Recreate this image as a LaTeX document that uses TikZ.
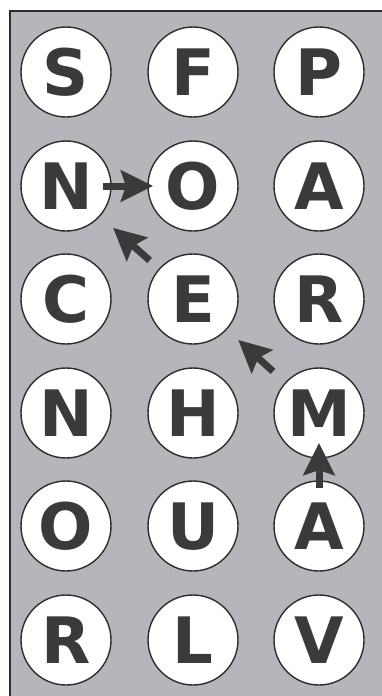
\documentclass[tikz,border=0pt]{standalone}
\usepackage{fontspec}
\setmainfont{DejaVu Sans}
\usetikzlibrary{arrows.meta}
\definecolor{bggrey}{RGB}{181,182,187}
\definecolor{ink}{RGB}{58,58,58}
\definecolor{rim}{RGB}{45,45,45}
\tikzset{
  letter/.style={circle, draw=rim, line width=1.4pt, fill=white, minimum size=90pt, inner sep=0pt,
    text=ink, font=\fontsize{64}{64}\selectfont\bfseries, text height=47pt, text depth=0pt},
  move/.style={draw=ink, line width=7pt, -{Stealth[length=32pt,width=31pt,inset=5pt]}}
}
\begin{document}
\begin{tikzpicture}[x=1pt,y=-1pt]
\useasboundingbox (0,0) rectangle (382,696);
\fill[white] (0,0) rectangle (382,696);
\fill[bggrey] (10,11) rectangle (390,705);
\draw[rim, line width=1.5pt] (10,705) -- (10,11) -- (390,11);
% grid
\node[letter] (s)  at (66,72) {S};
\node[letter] (f)  at (193,72) {F};
\node[letter] (p)  at (319,72) {P};
\node[letter] (n1) at (66,186) {N};
\node[letter] (o1) at (193,186) {O};
\node[letter] (a1) at (319,186) {A};
\node[letter] (c)  at (66,299) {C};
\node[letter] (e)  at (193,299) {E};
\node[letter] (r1) at (319,299) {R};
\node[letter] (n2) at (66,413) {N};
\node[letter] (h)  at (193,413) {H};
\node[letter] (m)  at (319,413) {M};
\node[letter] (o2) at (66,526) {O};
\node[letter] (u)  at (193,526) {U};
\node[letter] (a2) at (319,526) {A};
\node[letter] (r2) at (66,640) {R};
\node[letter] (l)  at (193,640) {L};
\node[letter] (v)  at (319,640) {V};
% arrows
\draw[move, shorten <=37pt, shorten >=40pt] (n1.center) -- (o1.center);
\draw[move, shorten <=58pt, shorten >=63pt] (e.center) -- (n1.center);
\draw[move, shorten <=62pt, shorten >=61pt] (m.center) -- (e.center);
\draw[move, shorten <=38pt, shorten >=30pt] (a2.center) -- (m.center);
\end{tikzpicture}
\end{document}
